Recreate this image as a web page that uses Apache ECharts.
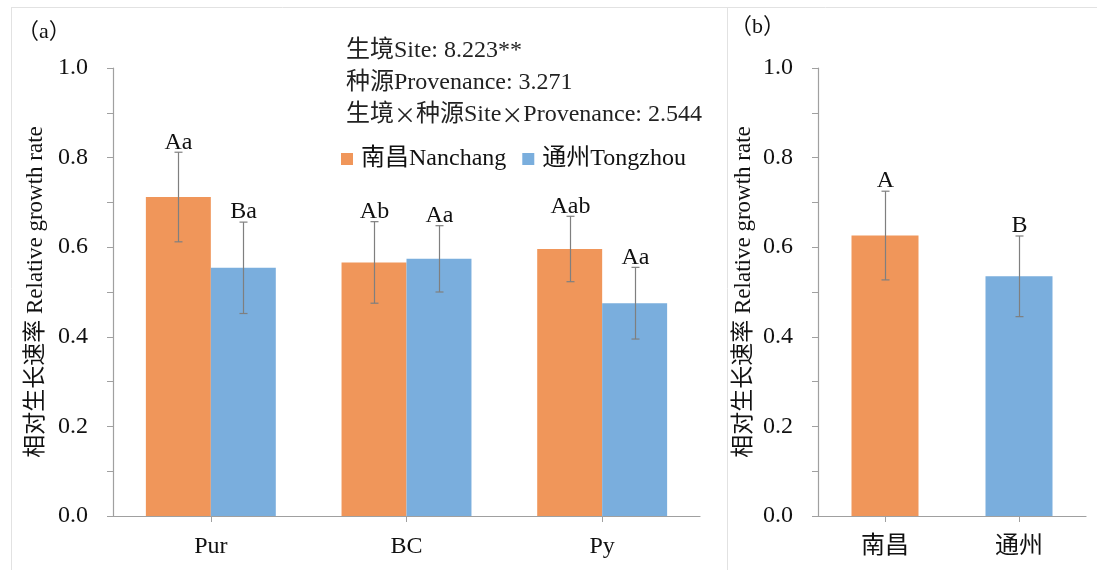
<!DOCTYPE html>
<html><head><meta charset="utf-8">
<script src="https://cdn.jsdelivr.net/npm/echarts@6/dist/echarts.min.js"></script>
<style>html,body{margin:0;padding:0;background:#fff}#c{width:1097px;height:570px}</style>
</head><body><div id="c"></div>
<script>
// ---- data ----
var categoriesA = ['Pur', 'BC', 'Py'];
var nanchangA = [0.712, 0.566, 0.596];
var nanchangErrA = [0.100, 0.091, 0.073];
var nanchangLetA = ['Aa', 'Ab', 'Aab'];
var tongzhouA = [0.554, 0.574, 0.475];
var tongzhouErrA = [0.102, 0.074, 0.080];
var tongzhouLetA = ['Ba', 'Aa', 'Aa'];

var categoriesB = ['南昌', '通州'];
var valuesB = [0.626, 0.535];
var errB = [0.099, 0.090];
var letB = ['A', 'B'];

var yTicks = [0, 0.2, 0.4, 0.6, 0.8, 1.0];
var statLines = ['生境Site: 8.223**', '种源Provenance: 3.271', '生境×种源Site×Provenance: 2.544'];
var legendNames = ['南昌Nanchang', '通州Tongzhou'];
var yTitle = '相对生长速率 Relative growth rate';

var ORANGE = '#F0965A', BLUE = '#7AAEDD';
var FONT = '"Liberation Serif", "Times New Roman", "Noto Sans CJK SC", serif';
var CJK = '"Noto Sans CJK SC", sans-serif';
var AXC = '#a0a0a0';
var FS = 24;

function errSeries(name, xIdx, yIdx, vals, errs, lets, offFrac) {
  var data = vals.map(function (v, i) { return [i, v, v - errs[i], v + errs[i]]; });
  return {
    type: 'custom', name: name, xAxisIndex: xIdx, yAxisIndex: yIdx, z: 10,
    data: data, encode: { x: 0, y: [1, 2, 3] }, silent: true,
    renderItem: function (params, api) {
      var cw = api.size([1, 0])[0];
      var off = offFrac * cw;
      var hi = api.coord([api.value(0), api.value(3)]);
      var lo = api.coord([api.value(0), api.value(2)]);
      var x = Math.round(hi[0] + off) + 0.5;
      var cap = 4;
      var st = { stroke: '#7f7f7f', lineWidth: 1.2 };
      return {
        type: 'group', children: [
          { type: 'line', shape: { x1: x, y1: hi[1], x2: x, y2: lo[1] }, style: st },
          { type: 'line', shape: { x1: x - cap, y1: hi[1], x2: x + cap, y2: hi[1] }, style: st },
          { type: 'line', shape: { x1: x - cap, y1: lo[1], x2: x + cap, y2: lo[1] }, style: st },
          { type: 'text', x: x, y: hi[1] + 2, style: { text: lets[params.dataIndex], fill: '#111', font: FS + 'px ' + FONT, align: 'center', verticalAlign: 'bottom' } }
        ]
      };
    }
  };
}

function yAxisCfg(gi) {
  return {
    type: 'value', gridIndex: gi, min: yTicks[0], max: yTicks[yTicks.length - 1], interval: 0.2,
    name: yTitle, nameLocation: 'middle', nameGap: 63,
    nameTextStyle: { fontSize: 23, fontFamily: FONT, color: '#111' },
    axisLine: { show: true, lineStyle: { color: AXC, width: 1.2 } },
    axisTick: { show: true, length: 6, lineStyle: { color: AXC } },
    minorTick: { show: true, splitNumber: 2, length: 6, lineStyle: { color: AXC } },
    splitLine: { show: false },
    axisLabel: { fontSize: FS, fontFamily: FONT, color: '#111', margin: 25, formatter: function (v) { return v.toFixed(1); } }
  };
}
function xAxisCfg(gi, cats) {
  return {
    type: 'category', gridIndex: gi, data: cats,
    axisLine: { show: true, lineStyle: { color: AXC, width: 1.2 } },
    axisTick: { show: true, alignWithLabel: true, length: 6, lineStyle: { color: AXC } },
    axisLabel: { fontSize: FS, fontFamily: FONT, color: '#111', margin: 19 }
  };
}

function richStat(s) {
  return s.split('×').join('{x|×}');
}

var bwA = 0.332;
var chart = echarts.init(document.getElementById('c'), null, { renderer: 'canvas' });
chart.setOption({
  backgroundColor: '#fff',
  animation: false,
  grid: [
    { left: 113, right: 397, top: 68, bottom: 54 },
    { left: 818, right: 11, top: 68, bottom: 54 }
  ],
  xAxis: [xAxisCfg(0, categoriesA), xAxisCfg(1, categoriesB)],
  yAxis: [yAxisCfg(0), yAxisCfg(1)],
  legend: {
    data: legendNames, left: 336, top: 142, itemWidth: 12, itemHeight: 12, itemGap: 16,
    icon: 'rect', textStyle: { fontSize: FS, fontFamily: FONT, color: '#111', padding: [0, 0, 0, 3] }
  },
  graphic: [
    { type: 'line', shape: { x1: 11, y1: 7.5, x2: 1097, y2: 7.5 }, style: { stroke: '#e2e2e2', lineWidth: 1 } },
    { type: 'line', shape: { x1: 11.5, y1: 7, x2: 11.5, y2: 570 }, style: { stroke: '#e2e2e2', lineWidth: 1 } },
    { type: 'line', shape: { x1: 727.5, y1: 7, x2: 727.5, y2: 570 }, style: { stroke: '#e2e2e2', lineWidth: 1 } },
    { type: 'text', left: 17, top: 21, style: { text: '（a）', font: '22px ' + FONT, fill: '#111' } },
    { type: 'text', left: 730, top: 16, style: { text: '（b）', font: '22px ' + FONT, fill: '#111' } },
    { type: 'text', left: 346, top: 35, style: {
        text: statLines.map(richStat).join('\n'), font: FS + 'px ' + FONT, fill: '#222', lineHeight: 32,
        rich: { x: { fontFamily: CJK, fontSize: 22, fill: '#222', lineHeight: 32 } } } }
  ],
  series: [
    { type: 'bar', name: legendNames[0], xAxisIndex: 0, yAxisIndex: 0, data: nanchangA, barWidth: (bwA * 100) + '%', barGap: '0%', itemStyle: { color: ORANGE } },
    { type: 'bar', name: legendNames[1], xAxisIndex: 0, yAxisIndex: 0, data: tongzhouA, barWidth: (bwA * 100) + '%', barGap: '0%', itemStyle: { color: BLUE } },
    errSeries('e1', 0, 0, nanchangA, nanchangErrA, nanchangLetA, -bwA / 2),
    errSeries('e2', 0, 0, tongzhouA, tongzhouErrA, tongzhouLetA, bwA / 2),
    { type: 'bar', name: 'b', xAxisIndex: 1, yAxisIndex: 1, barWidth: '50%',
      data: valuesB.map(function (v, i) { return { value: v, itemStyle: { color: i === 0 ? ORANGE : BLUE } }; }) },
    errSeries('e3', 1, 1, valuesB, errB, letB, 0)
  ]
});
</script></body></html>
